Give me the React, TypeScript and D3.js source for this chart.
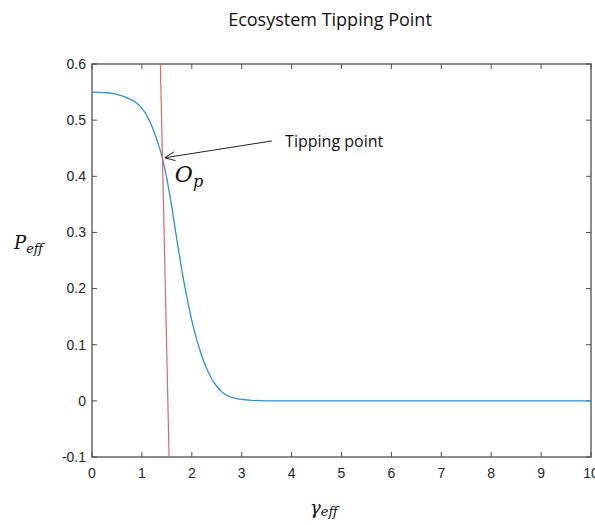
import React, { useEffect, useRef } from 'react';
import * as d3 from 'd3';

// curve
const gammaValues = [0, 0.25, 0.5, 0.75, 0.9, 1.0, 1.1, 1.2, 1.3, 1.4, 1.5, 1.6, 1.7, 1.8, 1.9, 2.0, 2.1, 2.2, 2.3, 2.4, 2.5, 2.6, 2.7, 2.8, 2.9, 3.0, 3.2, 3.5, 4, 5, 6, 7, 8, 9, 10];
const peffValues = [0.55, 0.549, 0.546, 0.538, 0.53, 0.521, 0.508, 0.489, 0.465, 0.436, 0.396, 0.345, 0.287, 0.233, 0.185, 0.143, 0.109, 0.08, 0.057, 0.039, 0.026, 0.016, 0.01, 0.006, 0.004, 0.0025, 0.001, 0, 0, 0, 0, 0, 0, 0, 0];

// red line end points
const redLineX = [1.37, 1.545];
const redLineY = [0.6, -0.1];

const xTicks = [0, 1, 2, 3, 4, 5, 6, 7, 8, 9, 10];
const yTicks = [-0.1, 0, 0.1, 0.2, 0.3, 0.4, 0.5, 0.6];

// annotation anchors (data units)
const tipPoint = [1.42, 0.433];
const arrowTail = [3.61, 0.463];
const labelPos = [3.87, 0.452];
const opPos = [1.66, 0.39];

const fmtTick = (t: number) => (t === 0 ? '0' : String(+t.toFixed(2)));

const App = () => {
  const ref = useRef(null);

  useEffect(() => {
    const svg = d3.select(ref.current);
    svg.selectAll('*').remove();

    const width = 595, height = 525;
    const margin = { top: 64, right: 4, bottom: 68, left: 92 };
    const axisColor = '#4d4d4d';
    const labelColor = '#262626';
    const tickFont = 'Liberation Sans, Arial, sans-serif';

    const x = d3.scaleLinear().domain([0, 10]).range([margin.left, width - margin.right]);
    const y = d3.scaleLinear().domain([-0.1, 0.6]).range([height - margin.bottom, margin.top]);

    const g = svg.append('g');

    // tick marks, inward on all four sides
    const tickLen = 5;
    xTicks.forEach(t => {
      g.append('line').attr('x1', x(t)).attr('x2', x(t)).attr('y1', y(-0.1)).attr('y2', y(-0.1) - tickLen)
        .attr('stroke', axisColor).attr('stroke-width', 1);
      g.append('line').attr('x1', x(t)).attr('x2', x(t)).attr('y1', y(0.6)).attr('y2', y(0.6) + tickLen)
        .attr('stroke', axisColor).attr('stroke-width', 1);
      g.append('text').attr('x', x(t)).attr('y', y(-0.1) + 21)
        .attr('text-anchor', 'middle').attr('font-family', tickFont)
        .attr('font-size', 14).attr('fill', labelColor).text(fmtTick(t));
    });
    yTicks.forEach(t => {
      g.append('line').attr('x1', x(0)).attr('x2', x(0) + tickLen).attr('y1', y(t)).attr('y2', y(t))
        .attr('stroke', axisColor).attr('stroke-width', 1);
      g.append('line').attr('x1', x(10)).attr('x2', x(10) - tickLen).attr('y1', y(t)).attr('y2', y(t))
        .attr('stroke', axisColor).attr('stroke-width', 1);
      g.append('text').attr('x', x(0) - 6).attr('y', y(t)).attr('dy', '0.35em')
        .attr('text-anchor', 'end').attr('font-family', tickFont)
        .attr('font-size', 14).attr('fill', labelColor).text(fmtTick(t));
    });

    // box
    g.append('rect')
      .attr('x', x(0)).attr('y', y(0.6))
      .attr('width', x(10) - x(0)).attr('height', y(-0.1) - y(0.6))
      .attr('fill', 'none').attr('stroke', axisColor).attr('stroke-width', 1.3);

    // blue curve
    const pts = gammaValues.map((v, i) => [v, peffValues[i]]);
    const line = d3.line().x(d => x(d[0])).y(d => y(d[1])).curve(d3.curveMonotoneX);
    g.append('path').datum(pts).attr('d', line)
      .attr('fill', 'none').attr('stroke', '#2f8fd0').attr('stroke-width', 1.3);

    // red line
    g.append('line')
      .attr('x1', x(redLineX[0])).attr('y1', y(redLineY[0]))
      .attr('x2', x(redLineX[1])).attr('y2', y(redLineY[1]))
      .attr('stroke', '#d66a6a').attr('stroke-width', 1.2);

    // arrow
    const tx = x(tipPoint[0]) + 2, ty = y(tipPoint[1]);
    const sx = x(arrowTail[0]), sy = y(arrowTail[1]);
    g.append('line').attr('x1', sx).attr('y1', sy).attr('x2', tx).attr('y2', ty)
      .attr('stroke', '#222').attr('stroke-width', 1);
    const ang = Math.atan2(sy - ty, sx - tx);
    const head = 11, spread = 0.42;
    const headPath = d3.path();
    headPath.moveTo(tx + head * Math.cos(ang - spread), ty + head * Math.sin(ang - spread));
    headPath.lineTo(tx, ty);
    headPath.lineTo(tx + head * Math.cos(ang + spread), ty + head * Math.sin(ang + spread));
    g.append('path').attr('d', headPath.toString()).attr('fill', 'none')
      .attr('stroke', '#222').attr('stroke-width', 1);

    g.append('text').attr('x', x(labelPos[0])).attr('y', y(labelPos[1]))
      .attr('font-family', 'Open Sans, sans-serif').attr('font-size', 16).attr('fill', '#111')
      .text('Tipping point');

    // O_p label
    const op = g.append('text').attr('x', x(opPos[0])).attr('y', y(opPos[1]))
      .attr('font-family', 'DejaVu Serif, serif').attr('font-style', 'italic').attr('fill', '#111');
    op.append('tspan').attr('font-size', 22).text('O');
    op.append('tspan').attr('font-size', 16).attr('dy', 5).text('p');

    // title
    svg.append('text').attr('x', 330).attr('y', 26).attr('text-anchor', 'middle')
      .attr('font-family', 'Open Sans, sans-serif').attr('font-size', 18).attr('fill', '#111')
      .text('Ecosystem Tipping Point');

    // y label
    const yl = svg.append('text').attr('x', 14).attr('y', 249)
      .attr('font-family', 'DejaVu Serif, serif').attr('font-style', 'italic').attr('fill', '#111');
    yl.append('tspan').attr('font-size', 18).text('P');
    yl.append('tspan').attr('font-size', 13).attr('dy', 4).text('eff');

    // x label
    const xl = svg.append('text').attr('x', 310).attr('y', 514)
      .attr('font-family', 'DejaVu Serif, serif').attr('font-style', 'italic').attr('fill', '#111');
    xl.append('tspan').attr('font-size', 18).text('γ');
    xl.append('tspan').attr('font-size', 13).attr('dy', 2).text('eff');
  }, []);

  return (
    <svg ref={ref} width={595} height={525}
      style={{ position: 'absolute', left: 0, top: 0, background: '#fff' }} />
  );
};

export default App;
